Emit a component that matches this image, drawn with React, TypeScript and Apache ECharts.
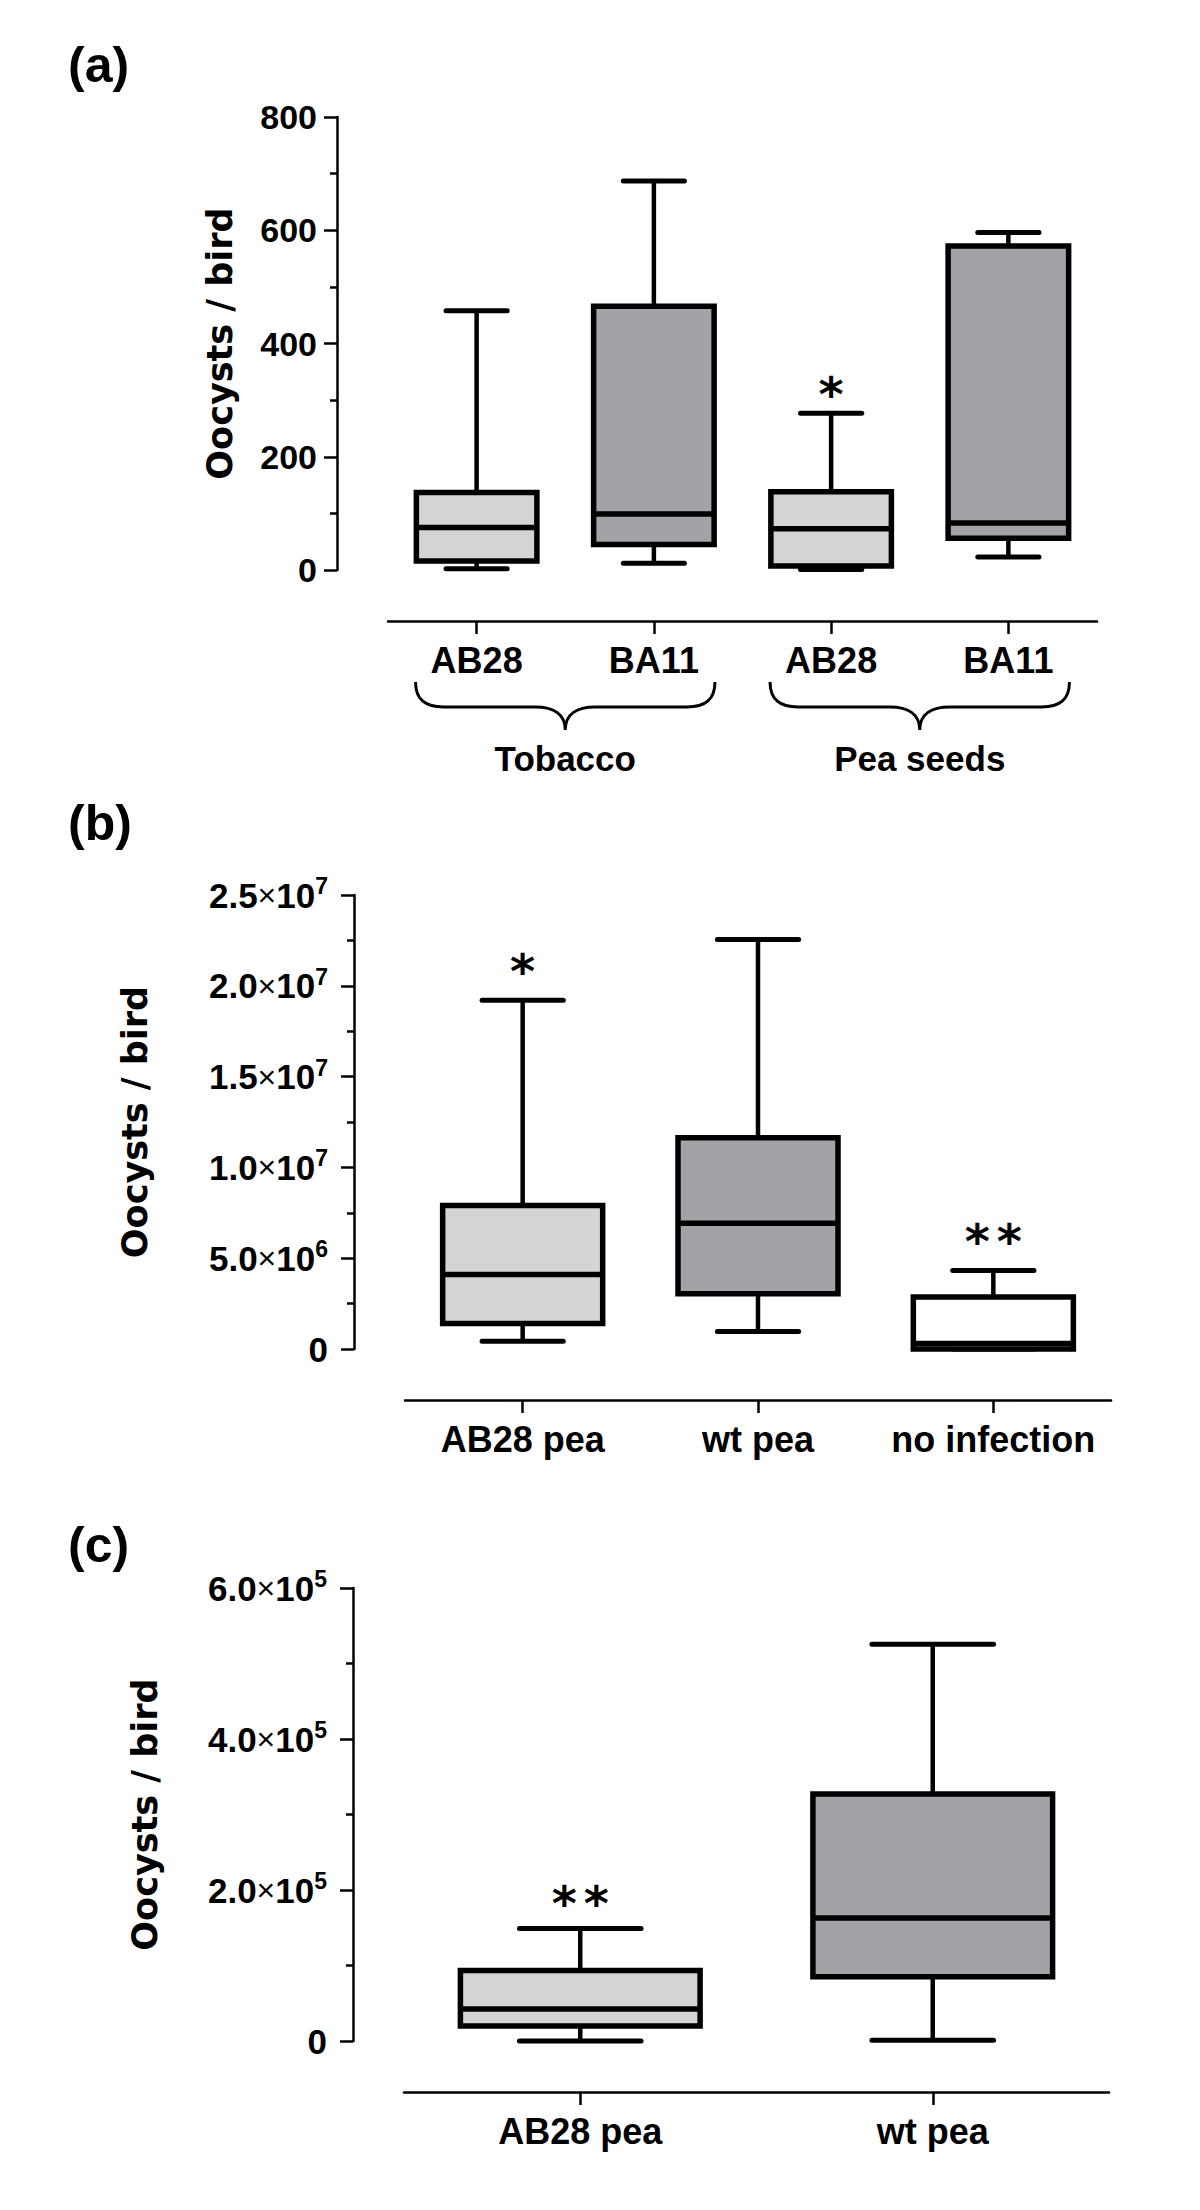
import React, { useEffect, useRef } from 'react';
import * as echarts from 'echarts';

// ---------- DATA ----------
// Panel (a)
const catsA = ['AB28', 'BA11', 'AB28', 'BA11'];
const groupsA = ['Tobacco', 'Pea seeds'];
// [min, q1, median, q3, max]
const boxA = [
  [2, 16, 75, 137, 458],
  [12, 45, 99, 466, 687],
  [1, 7, 73, 138, 277],
  [23, 56, 83, 572, 596],
];
const fillA = ['#d4d4d4', '#a3a2a6', '#d4d4d4', '#a3a2a6'];
const ticksA = [0, 200, 400, 600, 800];
const starCatA = [2];
const starValA = [330];
const starNA = [1];

// Panel (b)
const catsB = ['AB28 pea', 'wt pea', 'no infection'];
const boxB = [
  [0.42e6, 1.4e6, 4.1e6, 7.9e6, 19.2e6],
  [0.96e6, 3.04e6, 6.92e6, 11.63e6, 22.55e6],
  [0, 0, 0.3e6, 2.87e6, 4.32e6],
];
const fillB = ['#d4d4d4', '#a3a2a6', '#ffffff'];
const ticksB = [0, 5e6, 1e7, 1.5e7, 2e7, 2.5e7];
const starCatB = [0, 2];
const starValB = [21.4e6, 6.55e6];
const starNB = [1, 2];

// Panel (c)
const catsC = ['AB28 pea', 'wt pea'];
const boxC = [
  [0, 0.2e5, 0.425e5, 0.935e5, 1.49e5],
  [0.01e5, 0.85e5, 1.63e5, 3.27e5, 5.255e5],
];
const fillC = ['#d4d4d4', '#a3a2a6'];
const ticksC = [0, 2e5, 4e5, 6e5];
const starCatC = [0];
const starValC = [1.98e5];
const starNC = [2];

const yTitle = 'Oocysts / bird';
const panelLabels = ['(a)', '(b)', '(c)'];

// ---------- STYLE ----------
const W = 1200;
const H = 2210;
const LABEL_FONT = "'Liberation Sans', Arial, Helvetica, sans-serif";
const TITLE_FONT = "'DejaVu Sans', sans-serif";
const STAR_FONT = "'DejaVu Sans', sans-serif";

const BRACE_D =
  'M-150 0C-150 18-140 25-122 25L-30 25C-12 25 0 32 0 48C0 32 12 25 30 25L122 25C140 25 150 18 150 0';
echarts.graphic.registerShape('brace', echarts.graphic.extendPath(BRACE_D, {}) as any);

function sci(v: number) {
  if (v === 0) return '{n|0}';
  const e = Math.floor(Math.log10(v) + 1e-9);
  const m = (v / Math.pow(10, e)).toFixed(1);
  return `{n|${m}}{x|×}{n|10}{s|${e}}`;
}

function boxRender(fills: string[]) {
  return (params: any, api: any) => {
    const i = api.value(0);
    const pts = [1, 2, 3, 4, 5].map((k) => api.coord([i, api.value(k)]));
    const [pMin, pQ1, pMed, pQ3, pMax] = pts;
    const band = api.size([1, 0])[0];
    const cx = pMed[0];
    const bw = band * 0.68;
    const cw = band * 0.345;
    const line = (x1: number, y1: number, x2: number, y2: number, lw: number, cap = 'butt') => ({
      type: 'line',
      shape: { x1, y1, x2, y2 },
      style: { stroke: '#000', lineWidth: lw, lineCap: cap },
    });
    return {
      type: 'group',
      children: [
        line(cx, pMax[1], cx, pQ3[1], 4.5),
        line(cx, pMin[1], cx, pQ1[1], 4.5),
        line(cx - cw / 2, pMax[1], cx + cw / 2, pMax[1], 5, 'round'),
        line(cx - cw / 2, pMin[1], cx + cw / 2, pMin[1], 5, 'round'),
        {
          type: 'rect',
          shape: { x: cx - bw / 2, y: pQ3[1], width: bw, height: pQ1[1] - pQ3[1] },
          style: { fill: fills[params.dataIndex], stroke: '#000', lineWidth: 5.5 },
        },
        line(cx - bw / 2, pMed[1], cx + bw / 2, pMed[1], 5.5),
      ],
    };
  };
}

function starRender(params: any, api: any) {
  const p = api.coord([api.value(0), api.value(1)]);
  const n = api.value(2);
  const children: any[] = [];
  for (let k = 0; k < n; k++) {
    children.push({
      type: 'text',
      x: p[0] + (k - (n - 1) / 2) * 32,
      y: p[1] + 11,
      style: {
        text: '*',
        fontSize: 48,
        fontWeight: 'bold',
        fontFamily: STAR_FONT,
        fill: '#000',
        align: 'center',
        verticalAlign: 'middle',
      },
    });
  }
  return { type: 'group', children };
}

const axisLineStyle = { color: '#000', width: 2.5 };

function xAxisCfg(gridIndex: number, data: string[]) {
  return {
    type: 'category',
    gridIndex,
    data,
    offset: 51,
    boundaryGap: true,
    axisLine: { show: true, onZero: false, lineStyle: axisLineStyle },
    axisTick: { show: true, alignWithLabel: true, length: 13, lineStyle: axisLineStyle },
    axisLabel: {
      color: '#000',
      fontFamily: LABEL_FONT,
      fontWeight: 'bold',
      fontSize: 36,
      margin: 21,
      interval: 0,
    },
    splitLine: { show: false },
  };
}

function yAxisCfg(gridIndex: number, ticks: number[], sciFmt: boolean, nameGap: number, margin: number) {
  const step = ticks[1] - ticks[0];
  return {
    type: 'value',
    gridIndex,
    min: ticks[0],
    max: ticks[ticks.length - 1],
    interval: step,
    offset: 51,
    axisLine: { show: true, onZero: false, lineStyle: axisLineStyle },
    axisTick: { show: true, length: 13, lineStyle: axisLineStyle },
    minorTick: { show: true, splitNumber: 2, length: 7, lineStyle: axisLineStyle },
    splitLine: { show: false },
    minorSplitLine: { show: false },
    axisLabel: {
      color: '#000',
      margin,
      fontFamily: LABEL_FONT,
      fontWeight: 'bold',
      fontSize: 34,
      formatter: sciFmt ? (v: number) => sci(v) : (v: number) => `${v}`,
      rich: sciFmt
        ? {
            n: { fontFamily: LABEL_FONT, fontWeight: 'bold', fontSize: 35, color: '#000' },
            x: { fontFamily: LABEL_FONT, fontWeight: 'normal', fontSize: 32, color: '#000' },
            s: { fontFamily: LABEL_FONT, fontWeight: 'bold', fontSize: 23, color: '#000', padding: [0, 0, 18, 0] },
          }
        : undefined,
    },
    name: yTitle,
    nameLocation: 'middle',
    nameRotate: 90,
    nameGap,
    nameTextStyle: { fontFamily: TITLE_FONT, fontWeight: 'bold', fontSize: 35, color: '#000' },
  };
}

function boxSeries(idx: number, boxes: number[][], fills: string[]) {
  return {
    type: 'custom',
    xAxisIndex: idx,
    yAxisIndex: idx,
    renderItem: boxRender(fills),
    encode: { x: 0, y: [1, 2, 3, 4, 5] },
    data: boxes.map((b, i) => [i, ...b]),
    z: 2,
  };
}

function starSeries(idx: number, cats: number[], vals: number[], ns: number[]) {
  return {
    type: 'custom',
    xAxisIndex: idx,
    yAxisIndex: idx,
    renderItem: starRender,
    encode: { x: 0, y: 1 },
    data: cats.map((c, i) => [c, vals[i], ns[i]]),
    z: 3,
  };
}

export default function App() {
  const ref = useRef<HTMLDivElement>(null);
  useEffect(() => {
    document.body.style.margin = '0';
    const chart = echarts.init(ref.current as HTMLDivElement, null, { renderer: 'svg', width: W, height: H });
    const option: any = {
      animation: false,
      backgroundColor: '#fff',
      grid: [
        { left: 388, width: 709, top: 117, height: 453, containLabel: false, outerBoundsMode: 'none' },
        { left: 405, width: 706, top: 895, height: 454, containLabel: false, outerBoundsMode: 'none' },
        { left: 404, width: 705, top: 1588, height: 453, containLabel: false, outerBoundsMode: 'none' },
      ],
      xAxis: [xAxisCfg(0, catsA), xAxisCfg(1, catsB), xAxisCfg(2, catsC)],
      yAxis: [
        yAxisCfg(0, ticksA, false, 100, 20),
        yAxisCfg(1, ticksB, true, 202, 26),
        yAxisCfg(2, ticksC, true, 191, 26),
      ],
      series: [
        boxSeries(0, boxA, fillA),
        boxSeries(1, boxB, fillB),
        boxSeries(2, boxC, fillC),
        starSeries(0, starCatA, starValA, starNA),
        starSeries(1, starCatB, starValB, starNB),
        starSeries(2, starCatC, starValC, starNC),
      ],
    };
    chart.setOption(option);

    const graphics: any[] = [];
    const panelY = [65, 823, 1545];
    panelLabels.forEach((t, i) => {
      graphics.push({
        type: 'text',
        x: 68,
        y: panelY[i],
        style: {
          text: t,
          fontFamily: LABEL_FONT,
          fontWeight: 'bold',
          fontSize: 50,
          fill: '#000',
          align: 'left',
          verticalAlign: 'middle',
        },
      });
    });
    groupsA.forEach((name, gi) => {
      const p0 = chart.convertToPixel({ gridIndex: 0 } as any, [gi * 2, 0]) as number[];
      const p1 = chart.convertToPixel({ gridIndex: 0 } as any, [gi * 2 + 1, 0]) as number[];
      const cx = (p0[0] + p1[0]) / 2;
      const half = (p1[0] - p0[0]) / 2 + 61;
      const axisY = p0[1] + 51;
      graphics.push({
        type: 'brace',
        x: cx,
        y: axisY + 61,
        scaleX: half / 150,
        style: { stroke: '#000', fill: 'none', lineWidth: 3 },
        strokeNoScale: true,
      } as any);
      graphics.push({
        type: 'text',
        x: cx,
        y: axisY + 137,
        style: {
          text: name,
          fontFamily: LABEL_FONT,
          fontWeight: 'bold',
          fontSize: 35,
          fill: '#000',
          align: 'center',
          verticalAlign: 'middle',
        },
      });
    });
    chart.setOption({ graphic: graphics });
    return () => chart.dispose();
  }, []);
  return <div ref={ref} style={{ width: W, height: H }} />;
}
